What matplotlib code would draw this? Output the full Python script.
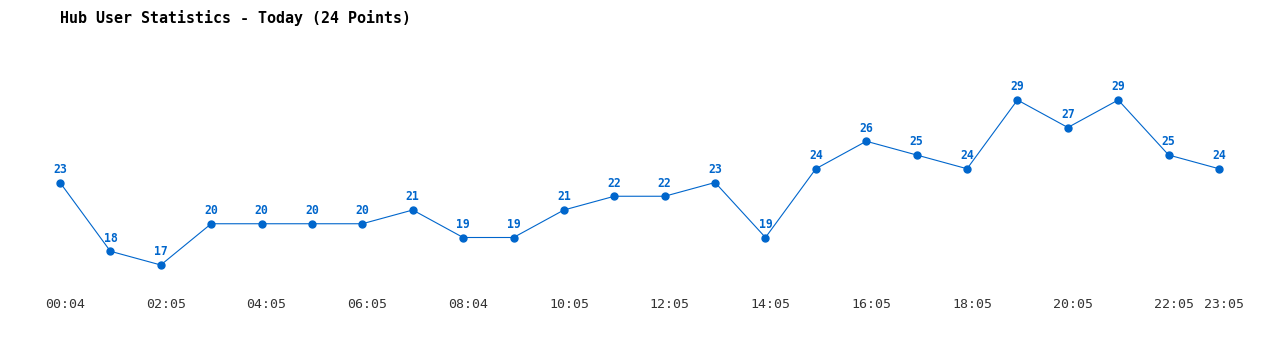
import matplotlib
matplotlib.use("Agg")
import matplotlib.pyplot as plt
import matplotlib.transforms as mtransforms

times = ["00:04", "01:05", "02:05", "03:05", "04:05", "05:05", "06:05", "07:05",
         "08:04", "09:05", "10:05", "11:05", "12:05", "13:05", "14:05", "15:05",
         "16:05", "17:05", "18:05", "19:05", "20:05", "21:05", "22:05", "23:05"]
users = [23, 18, 17, 20, 20, 20, 20, 21, 19, 19, 21, 22, 22, 23, 19, 24,
         26, 25, 24, 29, 27, 29, 25, 24]
tick_idx = [0, 2, 4, 6, 8, 10, 12, 14, 16, 18, 20, 22, 23]
title = "Hub User Statistics - Today (24 Points)"

W, H = 1280, 350
fig = plt.figure(figsize=(W / 100, H / 100), dpi=100)
x0, x1 = 60, 1219
ytop, ybot = 100, 265
ax = fig.add_axes([x0 / W, (H - ybot) / H, (x1 - x0) / W, (ybot - ytop) / H])
ax.set_xlim(0, len(users) - 1)
ax.set_ylim(min(users), max(users))
for s in ax.spines.values():
    s.set_visible(False)

blue = "#0066CC"
xs = list(range(len(users)))
ax.plot(xs, users, color=blue, lw=0.8, marker="o", ms=5.0, clip_on=False)

for x, v in zip(xs, users):
    ax.annotate(str(v), (x, v), xytext=(0, 9.5), textcoords="offset points",
                ha="center", va="center", fontsize=8.3, fontweight="bold",
                color=blue, family="DejaVu Sans Mono")

ax.set_yticks([])
ax.set_xticks(tick_idx)
ax.set_xticklabels([times[i] for i in tick_idx], family="DejaVu Sans Mono",
                   fontsize=9.5, color="#333333")
ax.tick_params(axis="x", length=0, pad=24)
offset = mtransforms.ScaledTranslation(5 / 100, 0, fig.dpi_scale_trans)
for lbl in ax.get_xticklabels():
    lbl.set_transform(lbl.get_transform() + offset)

fig.text(60 / W, 1 - 18 / H, title, ha="left", va="center",
         family="DejaVu Sans Mono", fontsize=10.8, fontweight="bold", color="#000000")

fig.savefig("out.png", dpi=100)
